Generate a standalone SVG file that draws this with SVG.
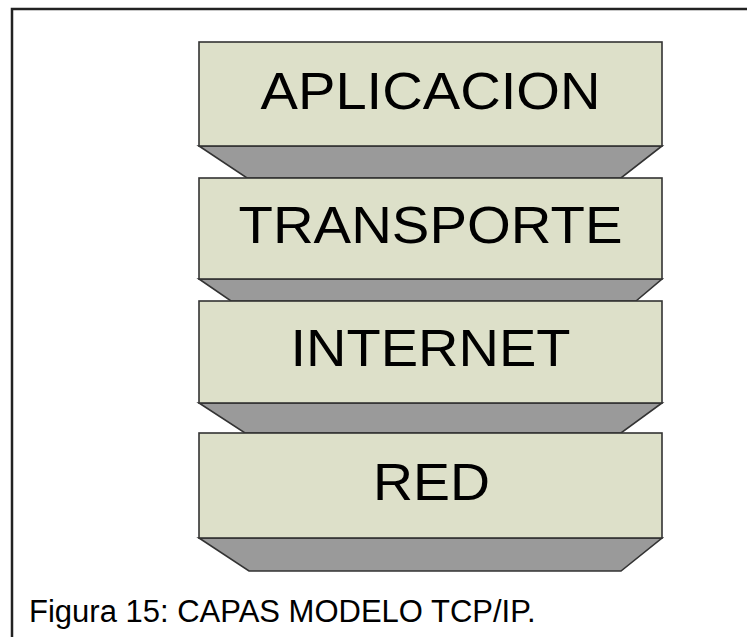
<svg xmlns="http://www.w3.org/2000/svg" width="747" height="637" viewBox="0 0 747 637">
  <style>
    .face { fill: #dde0c9; stroke: #333333; stroke-width: 1.6; }
    .bevel { fill: #9a9a9a; stroke: #333333; stroke-width: 1.6; stroke-linejoin: miter; }
    .label { font-family: "Liberation Sans", Arial, sans-serif; font-size: 52px; fill: #000000; text-anchor: middle; }
    .caption { font-family: "Liberation Sans", Arial, sans-serif; font-size: 31px; fill: #000000; }
  </style>
  <rect x="0" y="0" width="747" height="637" fill="#ffffff"/>
  <!-- frame: top and left edges only -->
  <polyline points="12,637 12,9 747,9" fill="none" stroke="#222222" stroke-width="2.5"/>

  <g id="layer-aplicacion">
    <polygon class="bevel" points="199,146 662,146 621,178 247,178"/>
    <rect class="face" x="199" y="42" width="463" height="104"/>
    <text class="label" x="430.5" y="109" textLength="340" lengthAdjust="spacingAndGlyphs">APLICACION</text>
  </g>

  <g id="layer-transporte">
    <polygon class="bevel" points="199,279 662,279 636,301 231,301"/>
    <rect class="face" x="199" y="178" width="463" height="101"/>
    <text class="label" x="430.5" y="243" textLength="384" lengthAdjust="spacingAndGlyphs">TRANSPORTE</text>
  </g>

  <g id="layer-internet">
    <polygon class="bevel" points="199,403 662,403 621,433 245,433"/>
    <rect class="face" x="199" y="301" width="463" height="102"/>
    <text class="label" x="430.5" y="366" textLength="280" lengthAdjust="spacingAndGlyphs">INTERNET</text>
  </g>

  <g id="layer-red">
    <polygon class="bevel" points="199,538 662,538 621,571 249,571"/>
    <rect class="face" x="199" y="433" width="463" height="105"/>
    <text class="label" x="431.5" y="500" textLength="117" lengthAdjust="spacingAndGlyphs">RED</text>
  </g>

  <g id="connectors"/>

  <text class="caption" x="29" y="622">Figura 15: CAPAS MODELO TCP/IP.</text>
</svg>
